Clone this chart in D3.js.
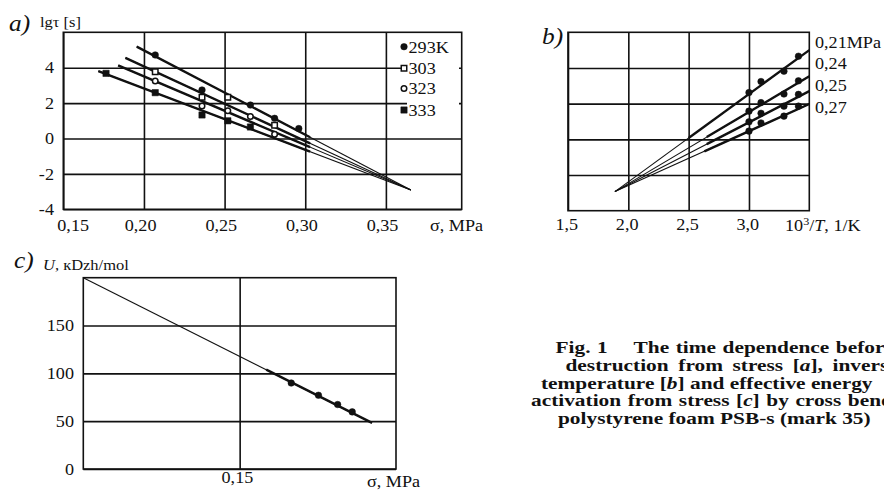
<!DOCTYPE html>
<html>
<head>
<meta charset="utf-8">
<script src="https://cdn.jsdelivr.net/npm/d3@7"></script>
<style>
  body { margin: 0; background: #fff; }
  svg { display: block; font-family: "Liberation Serif", "Times New Roman", serif; }
</style>
</head>
<body>
<svg id="chart" width="884" height="492"></svg>
<script>
// ---- panel a: lg tau against stress, one set per temperature
var tempLabels = ['293K', '303', '323', '333'];
var aStress293 = [0.207, 0.236, 0.266, 0.281, 0.296];
var aLgt293    = [4.72, 2.74, 1.89, 1.14, 0.56];
var aStress303 = [0.207, 0.236, 0.252, 0.281];
var aLgt303    = [3.77, 2.33, 2.33, 0.75];
var aStress323 = [0.207, 0.236, 0.252, 0.266, 0.281];
var aLgt323    = [3.25, 1.84, 1.57, 1.24, 0.24];
var aStress333 = [0.1765, 0.207, 0.236, 0.252, 0.266];
var aLgt333    = [3.68, 2.59, 1.33, 1.00, 0.65];
var aLineStart = [[0.1955, 5.19], [0.1885, 4.56], [0.184, 4.13], [0.1717, 3.81]];
var aPole = [0.3655, -2.91];
var aThickTo = 0.303;
var aXTicks = [0.15, 0.20, 0.25, 0.30, 0.35];
var aYTicks = [-4, -2, 0, 2, 4];

// ---- panel b: lg tau against 1000/T, one set per stress
var stressLabels = ['0,21MPa', '0,24', '0,25', '0,27'];
var bInvT = [3.0, 3.1, 3.29, 3.41];
var bLgt021 = [2.62, 3.24, 3.82, 4.66];
var bLgt024 = [1.58, 2.06, 2.54, 3.28];
var bLgt025 = [0.98, 1.46, 1.86, 2.52];
var bLgt027 = [0.46, 0.92, 1.30, 1.86];
var bLineEnd = [5.0, 3.54, 2.70, 1.98];   // lg tau at 1000/T = 3.5
var bThickFrom = [2.5, 2.65, 2.65, 2.63];
var bPole = [1.889, -2.93];
var bXTicks = [1.5, 2.0, 2.5, 3.0];
var bYTicks = [-2, 0, 2, 4];

// ---- panel c: activation energy against stress
var cStress = [0.1995, 0.2256, 0.244, 0.258];
var cU = [89.9, 77.1, 67.4, 59.7];
var cLine = [[0, 200], [0.277, 48.2]];
var cThickFrom = 0.1755;
var cXTicks = [0.15];
var cYTicks = [0, 50, 100, 150];

var captionLines = [
  ['Fig. 1    The time dependence before'],
  ['destruction from stress [', 'a', '], inverse'],
  ['temperature [', 'b', '] and effective energy'],
  ['activation from stress [', 'c', '] by cross bending'],
  ['polystyrene foam PSB-s (mark 35)']
];

var svg = d3.select('#chart');
var INK = '#111';
var SX = 1.1; // the scan is a little wider than tall, stretch text to match

function comma(n) { return function(d) { return d.toFixed(n).replace('.', ','); }; }

function label(x, y, str, size, opts) {
  opts = opts || {};
  var t = svg.append('text')
    .attr('transform', 'translate(' + x + ',' + y + ') scale(' + (opts.sx || SX) + ',1)')
    .attr('font-size', size)
    .attr('text-anchor', opts.anchor || 'start')
    .attr('fill', INK);
  if (opts.italic) t.attr('font-style', 'italic');
  if (opts.bold) t.attr('font-weight', 'bold');
  if (str) t.text(str);
  return t;
}

function grid(x, y, xTicks, yTicks, xFmt, yFmt, xPad, xDx) {
  var x0 = x.range()[0], x1 = x.range()[1], y0 = y.range()[0], y1 = y.range()[1];
  var g = svg.append('g');
  var gx = g.append('g').attr('transform', 'translate(0,' + y0 + ')')
    .call(d3.axisBottom(x).tickValues(xTicks).tickSizeInner(-(y0 - y1)).tickSizeOuter(0)
      .tickPadding(xPad).tickFormat(xFmt));
  g.append('g').attr('transform', 'translate(' + x0 + ',0)')
    .call(d3.axisLeft(y).tickValues(yTicks).tickSizeInner(-(x1 - x0)).tickSizeOuter(0)
      .tickPadding(8.5).tickFormat(yFmt));
  g.selectAll('.domain').remove();
  g.selectAll('g').attr('font-family', null).attr('font-size', null);
  g.selectAll('.tick line').attr('stroke', INK).attr('stroke-width', 1.6);
  g.selectAll('.tick text').attr('font-size', 16.5).attr('fill', INK)
    .attr('transform', 'scale(' + SX + ',1)');
  gx.selectAll('.tick text').attr('dx', xDx);
  g.append('rect').attr('x', x0).attr('y', y1)
    .attr('width', x1 - x0).attr('height', y0 - y1)
    .attr('fill', 'none').attr('stroke', INK).attr('stroke-width', 1.6);
  return gx;
}

function seg(x, y, p, q, w) {
  svg.append('path')
    .attr('d', d3.line().x(function(d) { return x(d[0]); }).y(function(d) { return y(d[1]); })([p, q]))
    .attr('stroke', INK).attr('stroke-width', w).attr('fill', 'none');
}
function onLine(p, q, t) { return [t, p[1] + (q[1] - p[1]) * (t - p[0]) / (q[0] - p[0])]; }

var symCircle = d3.symbol().type(d3.symbolCircle);
var symSquare = d3.symbol().type(d3.symbolSquare);
function mark(kind, cx, cy) {
  var open = kind === 'circleOpen' || kind === 'squareOpen';
  var sq = kind === 'squareOpen' || kind === 'squareFilled';
  svg.append('path')
    .attr('d', sq ? symSquare.size(open ? 30 : 40)() : symCircle.size(open ? 24 : 34)())
    .attr('transform', 'translate(' + cx + ',' + cy + ')')
    .attr('fill', open ? '#fff' : INK)
    .attr('stroke', INK).attr('stroke-width', open ? 1.5 : 0.5);
}

// ================= panel a
var ax = d3.scaleLinear().domain([0.15, 0.397]).range([63.3, 461.7]);
var ay = d3.scaleLinear().domain([-4, 6]).range([209.3, 32.3]);
var aAxis = grid(ax, ay, aXTicks, aYTicks, comma(2), function(d) { return String(d); }, 9.5, 0);
// first stress label sits clear of the corner, the rest a bit left of their tick
aAxis.selectAll('.tick text').attr('dx', function(d, i) { return i === 0 ? 8.5 : -3.5; });

var aSeries = [
  {xs: aStress293, ys: aLgt293, kind: 'circleFilled'},
  {xs: aStress303, ys: aLgt303, kind: 'squareOpen'},
  {xs: aStress323, ys: aLgt323, kind: 'circleOpen'},
  {xs: aStress333, ys: aLgt333, kind: 'squareFilled'}
];
aSeries.forEach(function(s, i) {
  seg(ax, ay, aLineStart[i], aPole, 1.1);
  seg(ax, ay, aLineStart[i], onLine(aLineStart[i], aPole, aThickTo), 2.4);
});
aSeries.forEach(function(s) {
  s.xs.forEach(function(v, j) { mark(s.kind, ax(v), ay(s.ys[j])); });
});

// legend of panel a
svg.append('rect').attr('x', 407).attr('y', 36).attr('width', 52).attr('height', 84).attr('fill', '#fff');
var legY = [46.7, 68.3, 88.6, 110];
tempLabels.forEach(function(t, i) {
  mark(aSeries[i].kind, 404, legY[i]);
  label(408.5, legY[i] + 5.8, t, 16.5);
});

label(9, 31, 'a)', 23, {italic: true});
label(40, 26.5, 'lgτ [s]', 15);
label(430, 230.5, 'σ, MPa', 16.5);

// ================= panel b
var bx = d3.scaleLinear().domain([1.5, 3.5]).range([568, 809.3]);
var by = d3.scaleLinear().domain([-4, 6]).range([210.7, 32.3]);
grid(bx, by, bXTicks, bYTicks, comma(1), function() { return ''; }, 8, -1.5);

var bSets = [bLgt021, bLgt024, bLgt025, bLgt027];
bSets.forEach(function(ys, i) {
  var end = [3.5, bLineEnd[i]];
  seg(bx, by, bPole, end, 1.1);
  seg(bx, by, onLine(bPole, end, bThickFrom[i]), end, 2.4);
});
bSets.forEach(function(ys) {
  bInvT.forEach(function(v, j) { mark('circleFilled', bx(v), by(ys[j])); });
});
stressLabels.forEach(function(t, i) {
  label(815, 47.5 + i * 21.8, t, 16.5);
});

label(542, 44, 'b)', 23, {italic: true});
var invT = label(785, 230.5, null, 16.5);
invT.append('tspan').text('10');
invT.append('tspan').attr('dy', -6).attr('font-size', 11).text('3');
invT.append('tspan').attr('dy', 6).text('/');
invT.append('tspan').attr('font-style', 'italic').text('T');
invT.append('tspan').text(', 1/K');

// ================= panel c
var cx = d3.scaleLinear().domain([0, 0.30]).range([83.3, 396]);
var cy = d3.scaleLinear().domain([0, 200]).range([469, 277.7]);
grid(cx, cy, cXTicks, cYTicks, comma(2), function(d) { return String(d); }, 2.5, -2.5);

seg(cx, cy, cLine[0], cLine[1], 1.1);
seg(cx, cy, onLine(cLine[0], cLine[1], cThickFrom), cLine[1], 2.4);
cStress.forEach(function(v, j) { mark('circleFilled', cx(v), cy(cU[j])); });

label(14, 268, 'c)', 23, {italic: true});
var uLab = label(43, 270, null, 15);
uLab.append('tspan').attr('font-style', 'italic').text('U');
uLab.append('tspan').text(', кDzh/mol');
label(367, 487, 'σ, MPa', 16.5);

// ================= caption (runs past the right edge, as in the scan)
var capX = [555.5, 565.5, 541, 531, 558];
var capWordGap = [1, 3.5, 0, 1, 0];
captionLines.forEach(function(parts, i) {
  var t = label(capX[i], 352.7 + i * 17.9, null, 17.5, {bold: true, sx: 1.22})
    .style('white-space', 'pre').attr('word-spacing', capWordGap[i]);
  parts.forEach(function(p, k) {
    var s = t.append('tspan').text(p);
    if (k === 1) s.attr('font-style', 'italic');
  });
});
</script>
</body>
</html>
